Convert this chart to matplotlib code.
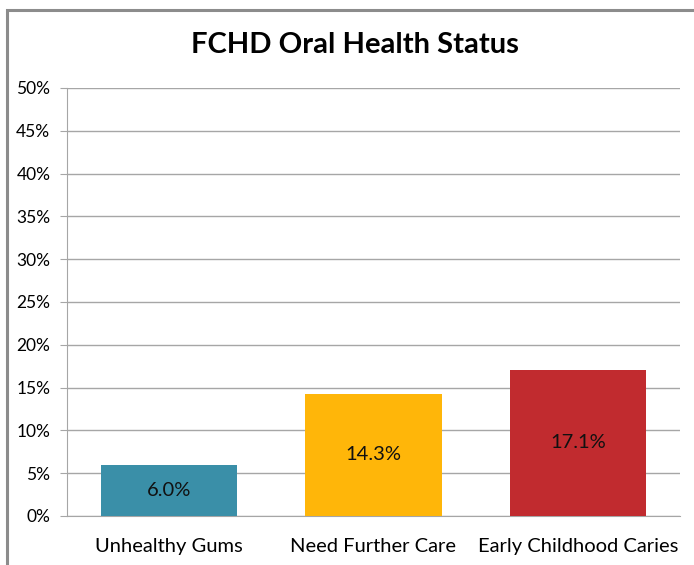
import matplotlib.pyplot as plt
import matplotlib.patches as patches
from matplotlib.ticker import MultipleLocator, PercentFormatter

categories = ["Unhealthy Gums", "Need Further Care", "Early Childhood Caries"]
values = [6.0, 14.3, 17.1]
colors = ["#3a8fa8", "#ffb609", "#c12b2f"]

plt.rcParams['font.family'] = ['Lato', 'DejaVu Sans']

fig = plt.figure(figsize=(6.94, 5.65), dpi=100)
W, H = 694, 565
ax = fig.add_axes([67 / W, 1 - 516 / H, (680 - 67) / W, (516 - 88) / H])

# outer chart border (cropped on right and bottom)
fig.patches.append(patches.Rectangle((7 / W, -0.1), 1.2, 1 - 10 / H + 0.1,
                                     transform=fig.transFigure, fill=False,
                                     edgecolor="#8c8c8c", linewidth=2.2))

x = range(len(categories))
bars = ax.bar(x, values, width=0.667, color=colors, zorder=3)
for b, v in zip(bars, values):
    ax.text(b.get_x() + b.get_width() / 2, v / 2, f"{v:.1f}%",
            ha="center", va="center", fontsize=14.5, color="#111111", zorder=4)

ax.set_xlim(-0.5, 2.5)
ax.set_ylim(0, 50)
ax.yaxis.set_major_locator(MultipleLocator(5))
ax.yaxis.set_major_formatter(PercentFormatter(decimals=0))
ax.grid(axis="y", color="#a6a6a6", linewidth=1, zorder=0)
ax.set_xticks(list(x))
ax.set_xticklabels(categories, fontsize=14.5)
ax.tick_params(axis="x", length=0, pad=16)
ax.tick_params(axis="y", length=5, color="#a6a6a6", labelsize=12.5, pad=7)
for s in ["top", "right"]:
    ax.spines[s].set_visible(False)
for s in ["left", "bottom"]:
    ax.spines[s].set_color("#a6a6a6")

fig.text(355 / W, 1 - 45 / H, "FCHD Oral Health Status", ha="center",
         va="center", fontsize=21, fontweight="bold")

fig.savefig("out.png", dpi=100)
